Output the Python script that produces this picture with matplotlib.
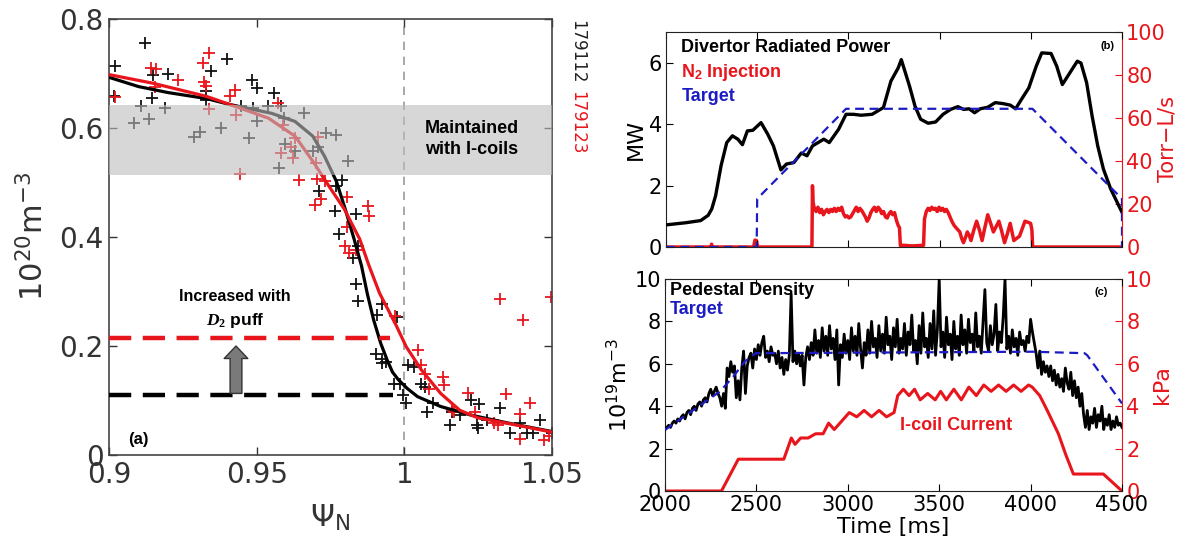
import numpy as np
import matplotlib.pyplot as plt
from matplotlib.patches import FancyArrowPatch

plt.rcParams['mathtext.fontset'] = 'custom'
plt.rcParams['mathtext.rm'] = 'DejaVu Sans'
plt.rcParams['mathtext.it'] = 'Liberation Serif:italic:bold'
plt.rcParams['mathtext.bf'] = 'Liberation Serif:bold'

RED = '#e8161c'
BLUE = '#1c1cc4'

# ---------------- panel (a) data ----------------
blk_x = [0.9121, 0.902, 0.9016, 0.915, 0.9147, 0.920, 0.911, 0.9084, 0.9134, 0.919,
         0.9329, 0.9329, 0.940, 0.9346, 0.9288, 0.9308, 0.938, 0.9483, 0.950, 0.9558,
         0.9448, 0.9487, 0.9474, 0.9539, 0.950, 0.9591, 0.9582, 0.966, 0.9597, 0.9575,
         0.963, 0.969, 0.9708, 0.9734, 0.977, 0.981, 0.979, 0.977, 0.9712, 0.9766,
         0.9838, 0.978, 0.9844, 0.9825,
         0.9838, 0.9844, 0.9925, 0.9909, 0.9974, 0.9903, 0.9926, 0.9925, 0.9939, 0.9965,
         0.9987, 0.9994, 1.0004, 1.0013, 1.0032, 1.0056, 1.0071, 1.0097, 1.0078, 1.0156,
         1.0162, 1.0188, 1.0225, 1.0253, 1.0247, 1.0251, 1.0279, 1.0325, 1.0357, 1.0390,
         1.0416, 1.0435, 1.0461, 1.0500]
blk_y = [0.756, 0.713, 0.658, 0.698, 0.655, 0.699, 0.641, 0.609, 0.617, 0.636,
         0.667, 0.652, 0.726, 0.704, 0.584, 0.592, 0.600, 0.688, 0.673, 0.665,
         0.641, 0.637, 0.582, 0.640, 0.612, 0.618, 0.640, 0.627, 0.571, 0.527,
         0.557, 0.557, 0.566, 0.591, 0.588, 0.539, 0.504, 0.493, 0.485, 0.448,
         0.443, 0.405, 0.384, 0.362,
         0.314, 0.283, 0.277, 0.257, 0.254, 0.185, 0.176, 0.168, 0.170, 0.131,
         0.131, 0.110, 0.095, 0.165, 0.161, 0.131, 0.125, 0.095, 0.078, 0.055,
         0.079, 0.073, 0.101, 0.094, 0.055, 0.049, 0.065, 0.086, 0.040, 0.058,
         0.040, 0.040, 0.064, 0.040]

red_x = [0.9022, 0.9143, 0.916, 0.9156, 0.9234, 0.9338, 0.9318, 0.9322, 0.933, 0.9425,
         0.941, 0.9338, 0.9429, 0.9571, 0.9588, 0.963, 0.9617, 0.9584, 0.9623, 0.9701,
         0.9708, 0.9442, 0.9643, 0.9705, 0.9731, 0.9718, 0.9697, 0.9805, 0.9877, 0.988,
         0.9805, 0.9799, 0.9812, 0.9838,
         0.9968, 1.0045, 1.0058, 1.0071, 1.013, 1.0136, 1.0084, 1.016, 1.0169, 1.0214,
         1.024, 1.0305, 1.0318, 1.0344, 1.039, 1.0425, 1.039, 1.0325, 1.0403, 1.0496,
         1.0474, 1.049]
red_y = [0.657, 0.710, 0.709, 0.675, 0.688, 0.738, 0.719, 0.684, 0.677, 0.669,
         0.659, 0.635, 0.623, 0.645, 0.606, 0.582, 0.566, 0.554, 0.545, 0.536,
         0.584, 0.516, 0.504, 0.507, 0.502, 0.470, 0.459, 0.474, 0.457, 0.438,
         0.419, 0.384, 0.371, 0.377,
         0.255, 0.193, 0.165, 0.149, 0.144, 0.128, 0.122, 0.083, 0.079, 0.114,
         0.079, 0.058, 0.055, 0.112, 0.076, 0.096, 0.029, 0.286, 0.247, 0.289,
         0.028, 0.035]

blk_fit_x = [0.900, 0.910, 0.920, 0.933, 0.941, 0.955, 0.963, 0.969, 0.973, 0.977,
             0.980, 0.983, 0.9855, 0.9875, 0.9896, 0.9920, 0.9942, 0.996, 0.998, 1.001,
             1.0045, 1.0123, 1.0227, 1.0357, 1.050]
blk_fit_y = [0.693, 0.676, 0.665, 0.654, 0.643, 0.627, 0.612, 0.585, 0.548, 0.502,
             0.451, 0.396, 0.347, 0.295, 0.248, 0.205, 0.174, 0.152, 0.138, 0.122,
             0.107, 0.089, 0.073, 0.058, 0.043]
red_fit_x = [0.900, 0.915, 0.933, 0.941, 0.954, 0.963, 0.9694, 0.9745, 0.9797, 0.9849,
             0.988, 0.9916, 0.9974, 1.0006, 1.0058, 1.0123, 1.0188, 1.025, 1.036, 1.050]
red_fit_y = [0.698, 0.682, 0.658, 0.643, 0.618, 0.585, 0.536, 0.493, 0.451, 0.396,
             0.348, 0.297, 0.236, 0.199, 0.156, 0.113, 0.082, 0.068, 0.057, 0.042]

band = (0.513, 0.642)
ped_before = 0.110
ped_after = 0.215

# ---------------- panel (b) data ----------------
prad_t = [2000, 2108, 2190, 2231, 2251, 2272, 2302, 2333, 2364, 2394, 2419, 2446, 2476,
          2521, 2558, 2589, 2630, 2660, 2701, 2742, 2773, 2803, 2865, 2895, 2946, 2987,
          3028, 3069, 3130, 3192, 3233, 3273, 3290, 3335, 3365, 3396, 3437, 3478, 3519,
          3560, 3600, 3631, 3662, 3692, 3723, 3764, 3805, 3846, 3887, 3917, 3948, 3989,
          4030, 4060, 4111, 4142, 4173, 4214, 4255, 4275, 4306, 4336, 4367, 4398, 4438, 4500]
prad = [0.72, 0.79, 0.86, 1.03, 1.24, 1.67, 2.65, 3.40, 3.62, 3.51, 3.33, 3.78, 3.80,
        4.05, 3.67, 3.29, 2.51, 2.70, 2.75, 3.06, 2.97, 3.29, 3.51, 3.40, 3.83, 4.32,
        4.32, 4.29, 4.32, 4.54, 5.40, 5.83, 6.10, 5.24, 4.59, 4.16, 4.03, 4.07, 4.32,
        4.48, 4.57, 4.48, 4.50, 4.37, 4.50, 4.55, 4.70, 4.67, 4.62, 4.50, 4.80, 5.18,
        5.89, 6.32, 6.30, 5.89, 5.29, 5.67, 6.05, 5.99, 5.35, 4.27, 3.29, 2.54, 1.89, 1.13]

prad_tgt_t = [2000, 2497, 2500, 2987, 4009, 4500, 4500]
prad_tgt = [0.0, 0.0, 1.57, 4.50, 4.50, 1.57, 0.0]

n2_t = [2000, 2245, 2250, 2255, 2480, 2488, 2496, 2503, 2800,
        2803, 2806, 2813, 2823, 2833, 2843, 2853, 2863, 2873, 2883, 2893, 2903,
        2913, 2923, 2933, 2943, 2953, 2963, 2973, 2983, 2993, 3003, 3013, 3023,
        3033, 3043, 3053, 3063, 3073, 3083, 3093, 3103, 3113, 3123, 3133, 3143,
        3153, 3163, 3173, 3183, 3193, 3203, 3213, 3223, 3233, 3243, 3253, 3263,
        3273, 3280, 3285, 3300, 3350, 3412,
        3417, 3427, 3437, 3447, 3457, 3467, 3477, 3487, 3497, 3507, 3517, 3527,
        3537, 3547, 3557, 3567, 3580, 3595, 3611, 3621, 3631, 3642, 3652, 3662,
        3672, 3688, 3703, 3718, 3733, 3748, 3764, 3780, 3795, 3810, 3825, 3840,
        3856, 3871, 3887, 3897, 3907, 3922, 3938, 3953, 3968, 3984, 3999, 4006,
        4010, 4500]
n2 = [0, 0, 1.3, 0, 0, 3.2, 3.0, 0, 0,
      28.5, 21, 18, 16.5, 18.5, 16, 17.5, 15, 16.5, 17.5, 16, 17.5,
      16.5, 18, 16.5, 18, 17, 18.5, 15.5, 14, 14.5, 13.5, 14, 15.5,
      17, 18.5, 16.5, 18, 17, 15.5, 14, 12, 13.5, 16, 17.5, 18.5,
      16.5, 18.5, 17.5, 15.5, 16.5, 14, 13.5, 15.5, 16.5, 15, 16, 12.5,
      10, 9, 0.6, 0.8, 0.5, 0.8,
      13, 16.5, 18, 17, 18.5, 17.5, 18, 16.5, 18.5, 17, 18, 16.5,
      17.5, 16, 14, 12, 10, 8.5, 7, 4, 2, 4.5, 7, 5.5,
      3, 8, 12, 8, 3, 9, 15, 11, 7, 9.5, 12, 7.5,
      2, 6, 11, 7, 3, 4, 5, 8.5, 12, 11.5, 11, 8,
      0, 0]

# ---------------- panel (c) data ----------------
dens_t = np.arange(2000, 4501, 10)
dens = [2.9, 3.0, 3.1, 3.0, 3.2, 3.3, 3.2, 3.4, 3.3, 3.5,
        3.6, 3.4, 3.7, 3.8, 3.6, 3.9, 4.0, 3.8, 4.1, 4.2,
        4.0, 4.3, 4.4, 4.2, 4.6, 4.8, 4.5, 4.7, 4.9, 4.6,
        4.4, 4.0, 4.6, 3.9, 5.8, 5.4, 6.1, 5.6, 5.9, 4.4,
        5.2, 4.3, 5.8, 6.6, 4.6, 5.9, 6.3, 6.5, 5.8, 6.7,
        6.2, 6.9, 6.4, 7.0, 7.3, 6.3, 6.6, 6.1, 6.8, 6.4,
        6.5, 6.0, 6.6, 5.8, 6.3, 5.5, 6.2, 5.7, 6.4, 9.3,
        6.1, 6.6, 6.0, 6.5, 5.9, 6.4, 5.0, 6.3, 6.8, 6.2,
        7.0, 6.4, 7.6, 6.5, 7.1, 6.3, 7.7, 6.6, 7.3, 6.4,
        7.8, 6.7, 7.2, 6.2, 7.6, 5.0, 6.9, 6.3, 7.4, 6.5,
        7.1, 6.2, 7.7, 6.6, 7.3, 6.4, 7.9, 6.7, 5.8, 7.0,
        6.4, 7.6, 6.5, 8.0, 6.8, 7.2, 6.3, 7.8, 6.6, 7.4,
        6.5, 8.2, 6.9, 7.3, 6.2, 7.7, 6.8, 8.1, 6.5, 7.2,
        6.7, 7.9, 6.4, 7.5, 6.9, 8.3, 6.6, 7.1, 6.0, 7.8,
        6.5, 8.4, 6.8, 7.2, 6.3, 7.9, 6.7, 8.5, 6.4, 7.6,
        10.0, 6.8, 7.5, 6.3, 8.2, 6.9, 7.4, 6.2, 8.0, 6.7,
        7.3, 6.4, 8.3, 6.9, 7.6, 6.5, 8.1, 7.0, 7.4, 6.6,
        8.4, 6.8, 7.3, 6.5, 8.0, 9.5, 7.0, 6.6, 7.8, 6.9,
        7.4, 8.8, 6.6, 7.5, 7.0, 8.2, 10.0, 6.7, 7.3, 6.5,
        7.6, 6.8, 7.2, 6.4, 7.5, 6.9, 7.1, 6.6, 7.3, 7.0,
        8.1, 7.5, 7.0, 6.5, 5.8, 6.6, 5.5, 6.1, 5.6, 5.9,
        5.4, 5.9, 5.2, 5.7, 5.0, 5.5, 4.9, 5.3, 4.7, 5.8,
        5.1, 4.8, 5.6, 4.5, 5.2, 4.4, 4.9, 4.0, 4.6, 3.6,
        3.0, 3.8, 2.9, 3.5, 3.2, 3.9, 3.0, 3.6, 3.3, 4.0,
        2.9, 3.4, 3.1, 3.6, 2.9, 3.3, 3.0, 3.5, 3.1, 3.2,
        3.0]

dens_tgt_t = [2000, 2300, 2374, 2435, 2497, 4009, 4295, 4310, 4500]
dens_tgt = [2.88, 4.69, 5.40, 6.10, 6.50, 6.57, 6.50, 6.40, 4.13]

icoil_t = [2000, 2309, 2401, 2650, 2691, 2711, 2742, 2783, 2824, 2865, 2895, 2926,
           2967, 3008, 3049, 3089, 3130, 3171, 3212, 3253, 3273, 3304, 3335, 3365,
           3396, 3437, 3478, 3508, 3539, 3580, 3621, 3662, 3703, 3744, 3784, 3825,
           3866, 3907, 3948, 3989, 4009, 4050, 4091, 4152, 4193, 4234, 4398, 4500]
icoil = [0.0, 0.0, 1.5, 1.5, 2.5, 2.2, 2.5, 2.5, 2.7, 2.7, 3.2, 2.9,
         3.3, 3.7, 3.5, 3.8, 3.5, 3.8, 3.5, 3.7, 4.5, 4.8, 4.5, 4.8,
         4.3, 4.6, 4.3, 4.7, 4.3, 4.8, 4.3, 4.9, 4.5, 5.0, 4.7, 5.0,
         4.7, 5.0, 4.7, 5.0, 4.9, 4.5, 3.8, 2.7, 1.7, 0.8, 0.8, 0.0]

W, H = 1184, 548
fig = plt.figure(figsize=(W / 100, H / 100), dpi=100)

# ---------------- panel (a) ----------------
axa = fig.add_axes([109 / W, 1 - 455 / H, 443 / W, 436 / H])
axa.plot(blk_x, blk_y, '+', color='#111111', ms=9, mew=1.3, zorder=2)
axa.plot(red_x, red_y, '+', color=RED, ms=9, mew=1.3, zorder=2)
axa.plot(blk_fit_x, blk_fit_y, color='black', lw=2.3, zorder=3)
axa.plot(red_fit_x, red_fit_y, color=RED, lw=2.3, zorder=3)
axa.axhspan(band[0], band[1], color='#bdbdbd', alpha=0.6, lw=0, zorder=5)
axa.axvline(1.0, color='#9a9a9a', lw=1.2, dashes=(5, 4), zorder=1)
axa.plot([0.9, 0.995], [ped_after, ped_after], color=RED, lw=3.2, dashes=(5, 2.6), zorder=4)
axa.plot([0.9, 0.996], [ped_before, ped_before], color='black', lw=3.2, dashes=(5, 2.6), zorder=4)
arr = FancyArrowPatch((0.943, 0.113), (0.943, 0.200), mutation_scale=1,
                      arrowstyle='simple,head_width=17,head_length=9,tail_width=8.5',
                      fc='#7a7a7a', ec='#333333', lw=1, shrinkA=0, shrinkB=0, zorder=6)
axa.add_patch(arr)
axa.text(1.0229, 0.580, 'Maintained\nwith I-coils', ha='center', va='center',
         fontsize=13, fontweight='bold', family='Liberation Sans', linespacing=1.3, zorder=7)
axa.text(0.9427, 0.29, 'Increased with', ha='center', va='center',
         fontsize=11.5, fontweight='bold', family='Liberation Sans')
axa.text(0.9427, 0.246, r'$D_\mathbf{2}$ puff', ha='center', va='center',
         fontsize=12.5, fontweight='bold', family='Liberation Sans')
axa.text(0.9065, 0.028, '(a)', ha='left', va='center', fontsize=12,
         fontweight='bold', family='Liberation Sans')
axa.set_xlim(0.9, 1.05)
axa.set_ylim(0, 0.8)
axa.set_xticks([0.9, 0.95, 1.0, 1.05])
axa.set_xticklabels(['0.9', '0.95', '1', '1.05'])
axa.set_yticks([0, 0.2, 0.4, 0.6, 0.8])
axa.set_yticklabels(['0', '0.2', '0.4', '0.6', '0.8'])
axa.tick_params(direction='in', top=True, right=True, length=6, width=1,
                labelsize=20, colors='#333333', pad=4)
for s in axa.spines.values():
    s.set_color('#444444')
    s.set_linewidth(1.2)
axa.set_xlabel(r'$\Psi_\mathrm{N}$', fontsize=22, color='#333333', labelpad=10)
axa.set_ylabel(r'$\mathrm{10^{20}m^{-3}}$', fontsize=22, color='#333333')
axa.yaxis.set_label_coords(-0.135, 0.5)
fig.text(577 / W, 1 - 20 / H, '179112', rotation=270, ha='center', va='top',
         fontsize=12, color='#222222')
fig.text(577 / W, 1 - 91 / H, '179123', rotation=270, ha='center', va='top',
         fontsize=12, color=RED)

# ---------------- panel (b) ----------------
axb = fig.add_axes([666 / W, 1 - 247 / H, 456 / W, 215 / H])
axb2 = axb.twinx()
axb2.plot(n2_t, n2, color=RED, lw=2.5, zorder=2)
axb.plot(prad_t, prad, color='black', lw=2.4, zorder=3)
axb.plot(prad_tgt_t, prad_tgt, color=BLUE, lw=1.6, dashes=(4, 2.5), zorder=4)
axb.set_zorder(axb2.get_zorder() + 1)
axb.patch.set_visible(False)
axb.set_xlim(2000, 4500)
axb.set_ylim(0, 7)
axb.set_yticks([0, 2, 4, 6])
axb.set_xticks([2000, 2500, 3000, 3500, 4000, 4500])
axb.set_xticklabels([])
axb2.set_ylim(0, 100)
axb2.set_yticks([0, 20, 40, 60, 80, 100])
axb.text(2084, 6.48, 'Divertor Radiated Power', ha='left', va='center',
         fontsize=13, fontweight='bold', family='Liberation Sans')
axb.text(2084, 5.69, r'N$_\mathregular{2}$ Injection', ha='left', va='center',
         fontsize=13, fontweight='bold', family='Liberation Sans', color=RED)
axb.text(2084, 4.91, 'Target', ha='left', va='center',
         fontsize=13, fontweight='bold', family='Liberation Sans', color=BLUE)
axb.text(4418, 6.53, '(b)', ha='center', va='center', fontsize=8,
         fontweight='bold', family='Liberation Sans')
axb.set_ylabel('MW', fontsize=16, labelpad=2)
axb2.set_ylabel('Torr\u2212L/s', fontsize=15, color=RED)
axb2.yaxis.set_label_coords(1.077, 0.5)

# ---------------- panel (c) ----------------
axc = fig.add_axes([665 / W, 1 - 491 / H, 457 / W, 212 / H])
axc2 = axc.twinx()
axc2.plot(icoil_t, icoil, color=RED, lw=2.2, zorder=2)
axc.plot(dens_t, dens, color='black', lw=2.0, zorder=3)
axc.plot(dens_tgt_t, dens_tgt, color=BLUE, lw=1.6, dashes=(4, 2.5), zorder=4)
axc.set_zorder(axc2.get_zorder() + 1)
axc.patch.set_visible(False)
axc.set_xlim(2000, 4500)
axc.set_ylim(0, 10)
axc.set_yticks([0, 2, 4, 6, 8, 10])
axc.set_xticks([2000, 2500, 3000, 3500, 4000, 4500])
axc2.set_ylim(0, 10)
axc2.set_yticks([0, 2, 4, 6, 8, 10])
axc.text(2027, 9.45, 'Pedestal Density', ha='left', va='center',
         fontsize=13, fontweight='bold', family='Liberation Sans')
axc.text(2027, 8.57, 'Target', ha='left', va='center',
         fontsize=13, fontweight='bold', family='Liberation Sans', color=BLUE)
axc.text(3590, 3.1, 'I-coil Current', ha='center', va='center',
         fontsize=13, fontweight='bold', family='Liberation Sans', color=RED)
axc.text(4387, 9.37, '(c)', ha='center', va='center', fontsize=8,
         fontweight='bold', family='Liberation Sans')
axc.set_xlabel('Time [ms]', fontsize=16, labelpad=1)
axc.set_ylabel(r'$\mathrm{10^{19}m^{-3}}$', fontsize=16, labelpad=2)
axc2.set_ylabel('kPa', fontsize=16, color=RED)
axc2.yaxis.set_label_coords(1.066, 0.5)

for ax, ax2 in [(axb, axb2), (axc, axc2)]:
    ax.tick_params(axis='both', direction='in', top=True, right=False,
                   length=5, labelsize=15, pad=3)
    ax2.tick_params(axis='y', direction='in', length=5, labelsize=15,
                    colors=RED, pad=3)
    ax.spines['right'].set_visible(False)
    ax2.spines['right'].set_color(RED)
    ax2.spines['left'].set_visible(False)
    ax2.spines['top'].set_visible(False)
    ax2.spines['bottom'].set_visible(False)
    for s in ['left', 'top', 'bottom']:
        ax.spines[s].set_color('#222222')

fig.savefig('out.png', dpi=100)
